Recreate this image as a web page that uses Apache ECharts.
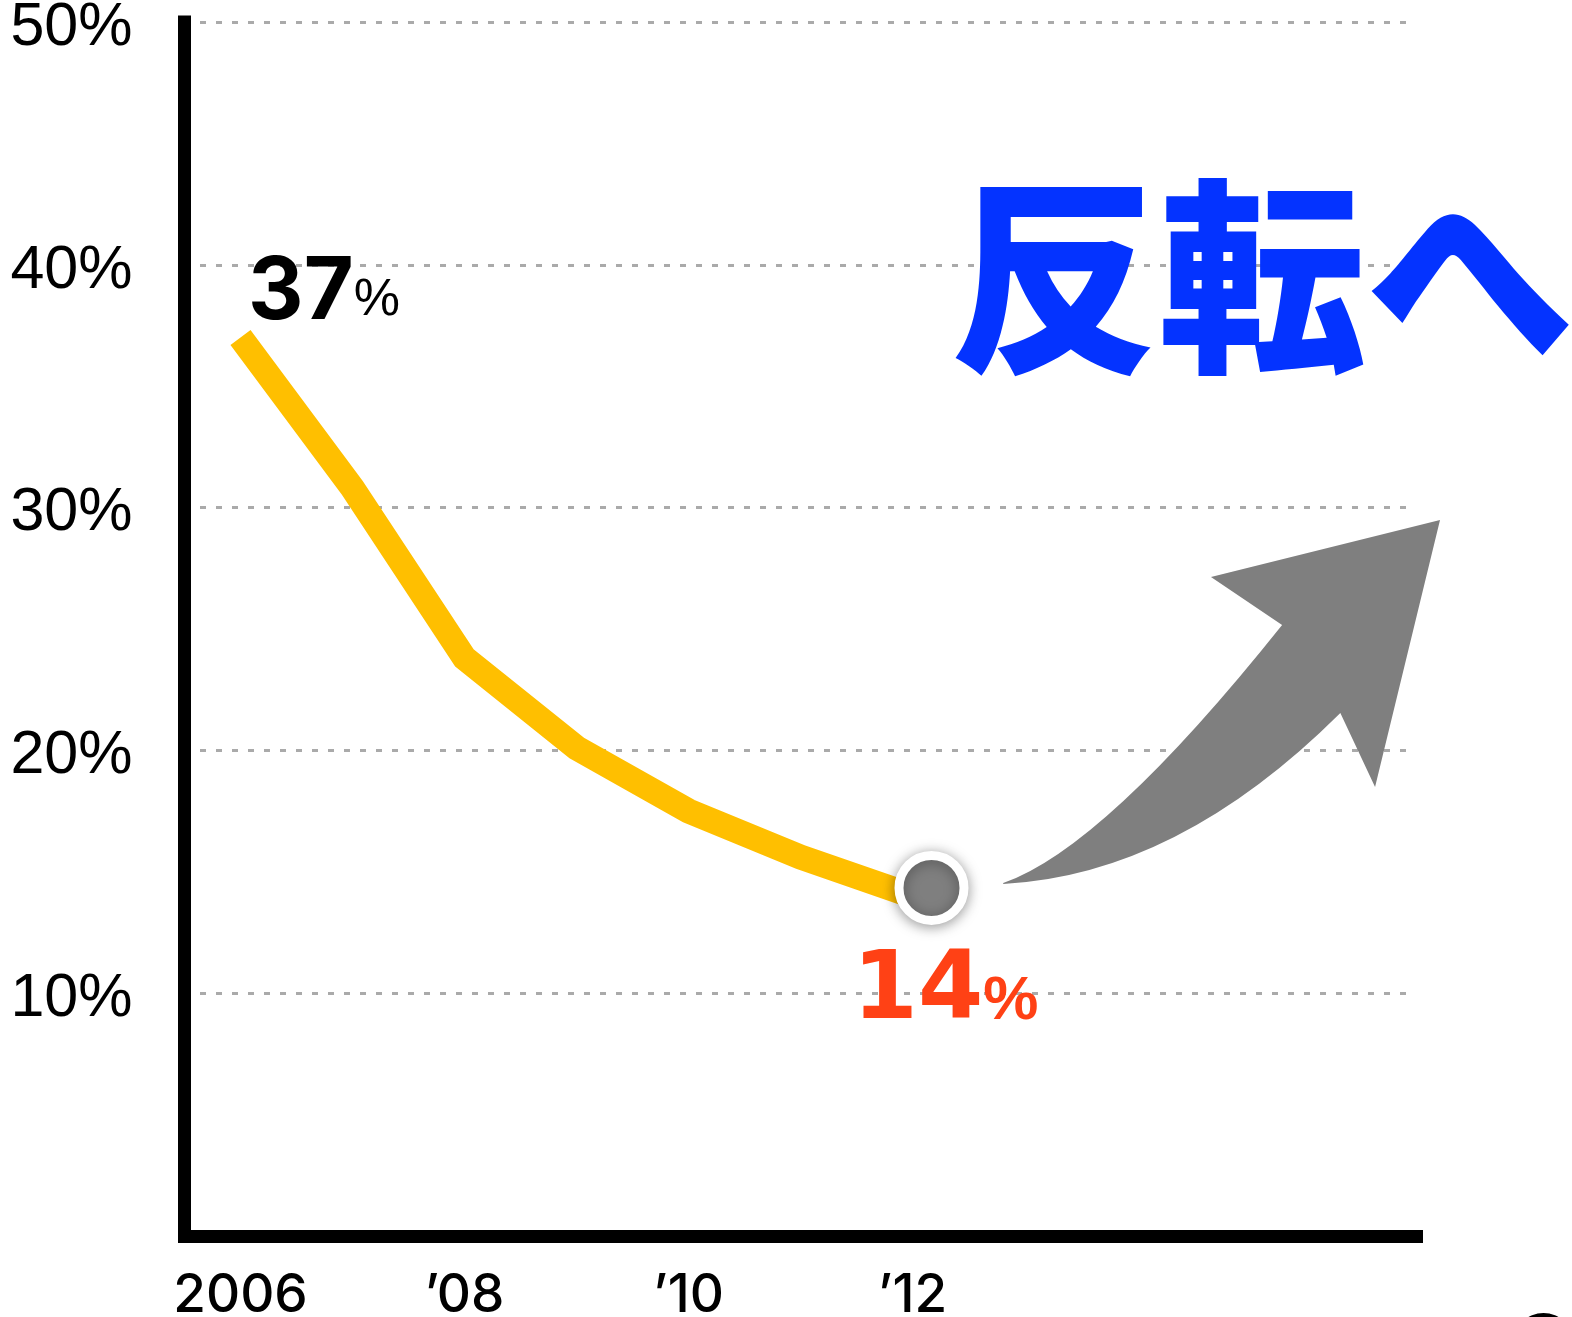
<!DOCTYPE html>
<html>
<head>
<meta charset="utf-8">
<script src="https://cdn.jsdelivr.net/npm/echarts@6/dist/echarts.min.js"></script>
<style>
  html, body { margin: 0; padding: 0; background: #ffffff; }
  #chart { width: 1572px; height: 1317px; }
</style>
</head>
<body>
<div id="chart"></div>
<script>
// Share by year (%)
const years = [2006, 2007, 2008, 2009, 2010, 2011, 2012];
const shares = [37, 30.8, 23.8, 20.1, 17.5, 15.6, 14];

// Axis tick labels
const yearTicks = [2006, 2008, 2010, 2012];
const yearTickLabels = ['2006', '\u201908', '\u201910', '\u201912'];
const percentTicks = [10, 20, 30, 40, 50];

const headline = '反転へ';

// Outline of the upturn arrow, in (year, %) space
const arrowTail = [2012.81, 14.53];
const arrowUpperCtrl = [2013.71, 15.97];
const arrowNeckTop = [2015.30, 25.16];
const arrowBarbLeft = [2014.665, 27.14];
const arrowTip = [2016.71, 29.49];
const arrowBarbRight = [2016.13, 18.49];
const arrowNeckBottom = [2015.82, 21.53];
const arrowLowerCtrl = [2014.37, 14.86];

const UI_FONT = 'Inter, "Liberation Sans", Arial, sans-serif';
const TICK_FONT = '"Liberation Sans", Arial, sans-serif';

const chart = echarts.init(document.getElementById('chart'), null, { renderer: 'canvas' });

function arrowPath(api) {
  const p = (pt) => api.coord(pt);
  const t = p(arrowTail), uc = p(arrowUpperCtrl), nt = p(arrowNeckTop),
        bl = p(arrowBarbLeft), tip = p(arrowTip), br = p(arrowBarbRight),
        nb = p(arrowNeckBottom), lc = p(arrowLowerCtrl);
  return 'M' + t[0] + ' ' + t[1] +
    ' Q' + uc[0] + ' ' + uc[1] + ' ' + nt[0] + ' ' + nt[1] +
    ' L' + bl[0] + ' ' + bl[1] +
    ' L' + tip[0] + ' ' + tip[1] +
    ' L' + br[0] + ' ' + br[1] +
    ' L' + nb[0] + ' ' + nb[1] +
    ' Q' + lc[0] + ' ' + lc[1] + ' ' + t[0] + ' ' + (t[1] + 1) + ' Z';
}

const last = years.length - 1;

const option = {
  animation: false,
  backgroundColor: '#ffffff',
  grid: [
    { left: 184.5, right: 155.5, top: 22, bottom: 81.25, containLabel: false, outerBoundsMode: 'none' },
    { left: 200, right: 165, top: 22, bottom: 81.25, containLabel: false, outerBoundsMode: 'none' }
  ],
  xAxis: [
    {
      type: 'value', gridIndex: 0, min: 2005.5, max: 2016.5, interval: 0.5,
      splitLine: { show: false },
      axisTick: { show: false },
      axisLine: { show: true, onZero: false, lineStyle: { color: '#000', width: 13, cap: 'square' } },
      axisLabel: {
        margin: 34,
        fontFamily: UI_FONT, fontSize: 53, fontWeight: 500, color: '#000',
        formatter: (v) => {
          const i = yearTicks.indexOf(v);
          return i >= 0 ? yearTickLabels[i] : '';
        }
      }
    },
    { type: 'value', gridIndex: 1, min: 0, max: 1, show: false }
  ],
  yAxis: [
    {
      type: 'value', gridIndex: 0, min: 0, max: 50, interval: 10,
      splitLine: { show: false },
      axisTick: { show: false },
      axisLine: { show: true, onZero: false, lineStyle: { color: '#000', width: 13, cap: 'square' } },
      axisLabel: {
        margin: 52,
        verticalAlign: 'top',
        lineHeight: 12,
        fontFamily: TICK_FONT, fontSize: 61, color: '#000',
        formatter: (v) => percentTicks.indexOf(v) >= 0 ? v + '%' : ''
      }
    },
    {
      type: 'value', gridIndex: 1, min: 0, max: 50, interval: 10,
      axisLine: { show: false }, axisTick: { show: false }, axisLabel: { show: false },
      splitLine: { show: true, showMinLine: false, lineStyle: { color: '#aaaaaa', width: 3, type: [6, 10] } }
    }
  ],
  series: [
    {
      name: 'share',
      type: 'line',
      xAxisIndex: 0, yAxisIndex: 0,
      data: years.map((y, i) => [y, shares[i]]),
      symbol: 'none',
      silent: true,
      z: 2,
      lineStyle: { color: '#FFBF00', width: 25, cap: 'butt', join: 'miter' }
    },
    {
      name: 'arrow',
      type: 'custom',
      xAxisIndex: 0, yAxisIndex: 0,
      data: [arrowTail],
      silent: true,
      z: 3,
      renderItem: (params, api) => ({
        type: 'path',
        shape: { pathData: arrowPath(api) },
        style: { fill: '#7f7f7f', stroke: null }
      })
    },
    {
      name: 'first',
      type: 'scatter',
      xAxisIndex: 0, yAxisIndex: 0,
      data: [[years[0], shares[0]]],
      symbolSize: 1,
      silent: true,
      z: 4,
      itemStyle: { color: 'rgba(0,0,0,0)', opacity: 1 },
      label: {
        show: true, position: 'inside', offset: [83.5, -44], opacity: 1,
        formatter: (p) => '{n|' + p.value[1] + '}{p|%}',
        rich: {
          n: { fontFamily: UI_FONT, fontWeight: 700, fontSize: 86, lineHeight: 86, color: '#000' },
          p: { fontFamily: TICK_FONT, fontWeight: 'normal', fontSize: 52, padding: [14, 0, 0, 0], color: '#000' }
        }
      }
    },
    {
      name: 'latest',
      type: 'scatter',
      xAxisIndex: 0, yAxisIndex: 0,
      data: [[years[last], shares[last]]],
      symbolSize: 65,
      symbolOffset: [19, -8],
      silent: true,
      z: 5,
      itemStyle: {
        color: '#7f7f7f', borderColor: '#ffffff', borderWidth: 9, opacity: 1,
        shadowBlur: 14, shadowColor: 'rgba(0,0,0,0.35)', shadowOffsetY: 2
      },
      label: {
        show: true, position: 'inside', offset: [14, 106], opacity: 1,
        formatter: (p) => '{n|' + p.value[1] + '}{p|%}',
        rich: {
          n: { fontFamily: '"DejaVu Sans", sans-serif', fontWeight: 'bold', fontSize: 94, lineHeight: 94, color: '#ff4115' },
          p: { fontFamily: TICK_FONT, fontWeight: 'bold', fontSize: 62, padding: [16, 0, 0, 0], color: '#ff4115' }
        }
      }
    }
  ],
  graphic: [
    {
      type: 'text', x: 1262, y: 277, z: 10,
      style: {
        text: headline, fill: '#0433ff',
        fontFamily: '"Noto Sans CJK JP", sans-serif', fontWeight: 900, fontSize: 208,
        align: 'center', verticalAlign: 'middle'
      }
    },
    {
      type: 'circle', z: 10,
      shape: { cx: 1543.5, cy: 1343, r: 30 },
      style: { fill: '#000' }
    }
  ]
};

chart.setOption(option);
</script>
</body>
</html>
